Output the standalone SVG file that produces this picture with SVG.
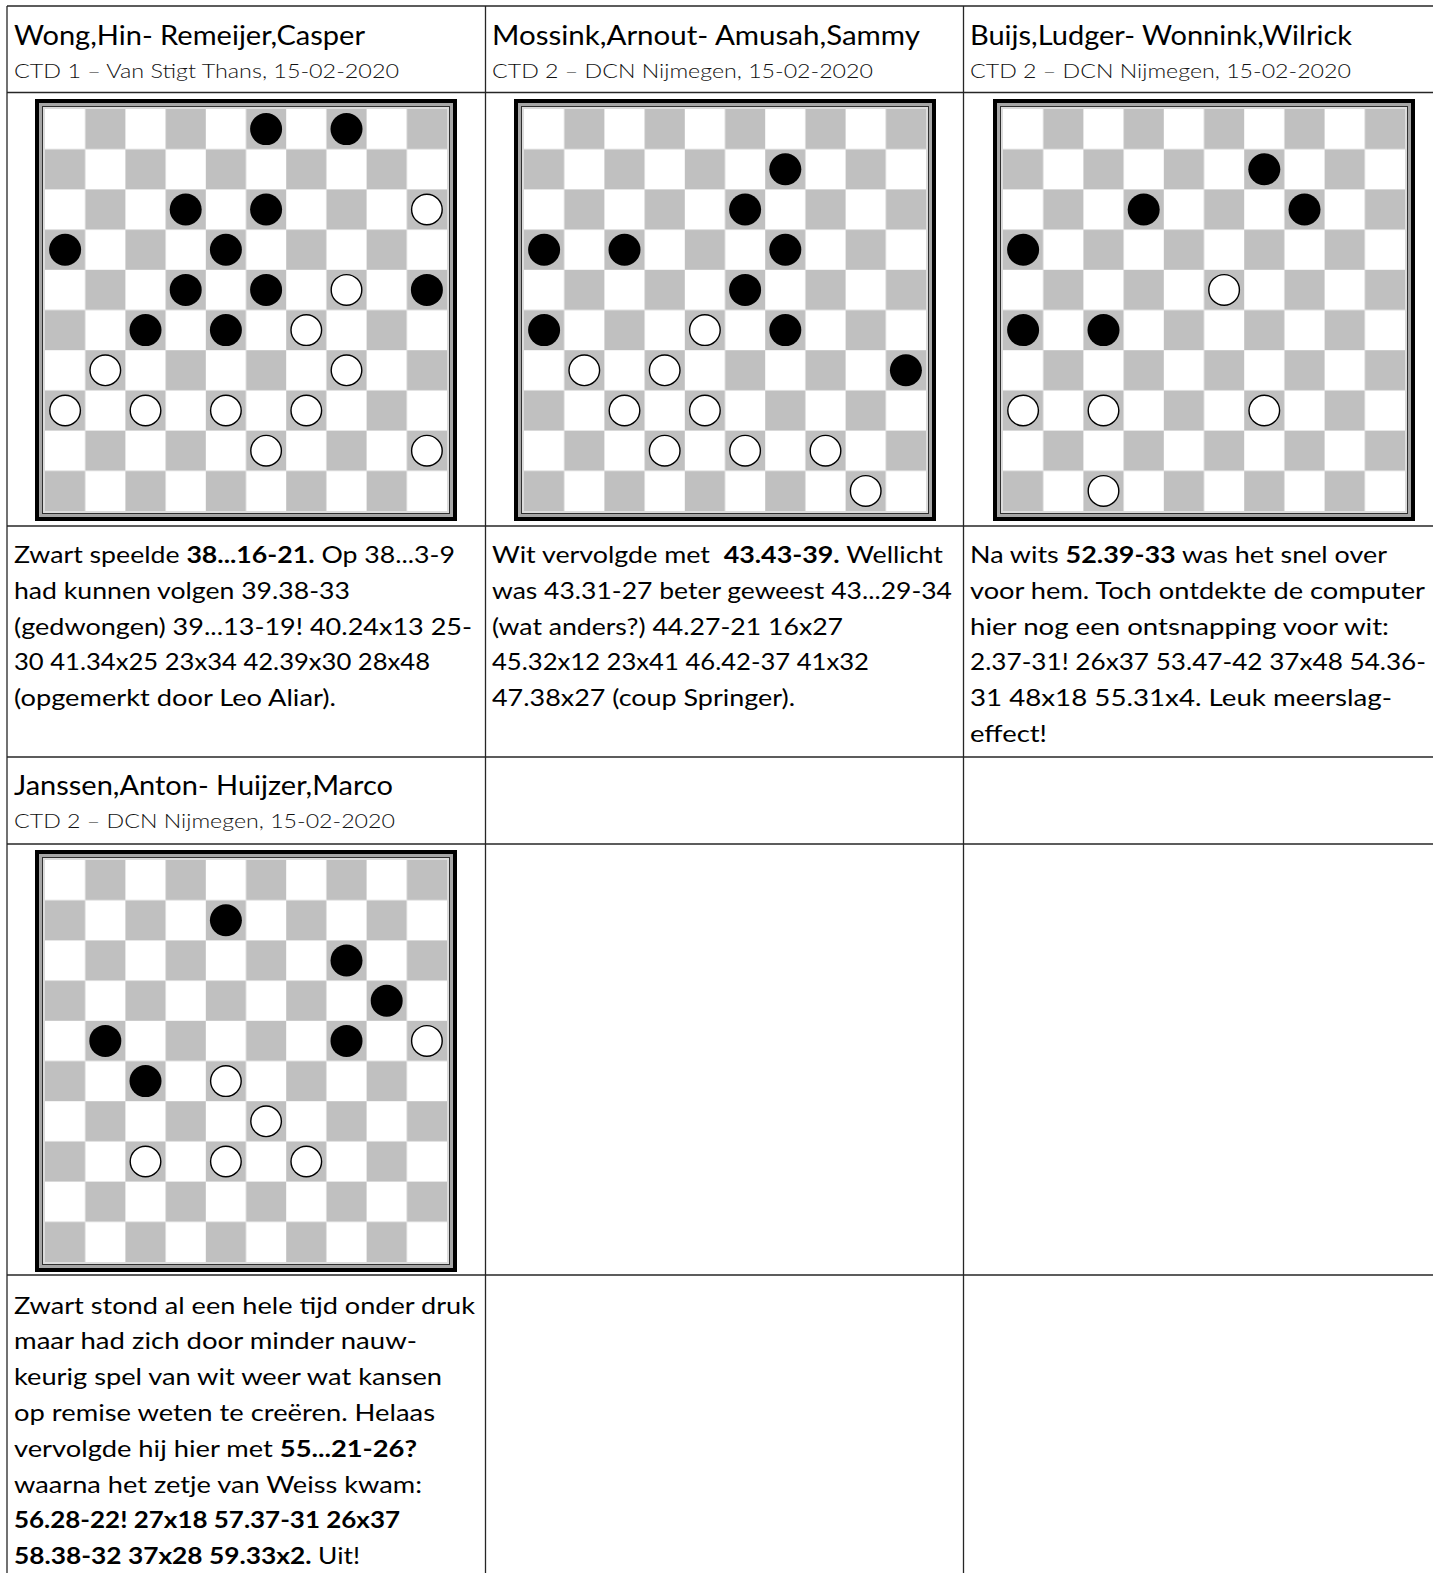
<svg xmlns="http://www.w3.org/2000/svg" xmlns:xlink="http://www.w3.org/1999/xlink" width="1433" height="1573" viewBox="0 0 1433 1573">
<style>
.t{font-family:Lato,"Liberation Sans",sans-serif;fill:#000}
.h{font-size:27px}
.s{font-size:20.5px;font-weight:300;fill:#111}
.b{font-size:23.5px}
.bd{font-weight:700}
.ln{stroke:#262626;stroke-width:1.3;fill:none}
</style>
<defs>
<pattern id="chk" x="10" y="10" width="80.4" height="80.4" patternUnits="userSpaceOnUse">
<rect width="80.4" height="80.4" fill="#fff"/>
<rect x="40.2" width="40.2" height="40.2" fill="#c0c0c0"/>
<rect y="40.2" width="40.2" height="40.2" fill="#c0c0c0"/>
</pattern>
<g id="board">
<rect width="422" height="422" fill="#000"/>
<rect x="4" y="4" width="414" height="414" fill="#a6a6a6"/>
<rect x="7.5" y="7.5" width="407" height="407" fill="#dcdcdc" stroke="#303030" stroke-width="1"/>
<rect x="10" y="10" width="402" height="402" fill="url(#chk)"/>
</g>
<circle id="bp" r="16" fill="#000"/>
<circle id="wp" r="15.3" fill="#fff" stroke="#000" stroke-width="1.4"/>
</defs>
<rect width="1433" height="1573" fill="#fff"/>

<g id="connectors">
<line class="ln" x1="7" y1="6" x2="1433" y2="6"/>
<line class="ln" x1="7" y1="92.5" x2="1433" y2="92.5"/>
<line class="ln" x1="7" y1="526" x2="1433" y2="526"/>
<line class="ln" x1="7" y1="757" x2="1433" y2="757"/>
<line class="ln" x1="7" y1="844" x2="1433" y2="844"/>
<line class="ln" x1="7" y1="1275" x2="1433" y2="1275"/>
<line class="ln" x1="7" y1="6" x2="7" y2="1573"/>
<line class="ln" x1="485.5" y1="6" x2="485.5" y2="1573"/>
<line class="ln" x1="963.5" y1="6" x2="963.5" y2="1573"/>
</g>

<g id="game1">
<text class="t h" x="14" y="45" textLength="351" lengthAdjust="spacingAndGlyphs">Wong,Hin- Remeijer,Casper</text>
<text class="t s" x="14" y="78" textLength="385" lengthAdjust="spacingAndGlyphs">CTD 1 – Van Stigt Thans, 15-02-2020</text>
<g transform="translate(35,99)">
<use xlink:href="#board"/>
<use xlink:href="#bp" x="231.1" y="30.1"/><use xlink:href="#bp" x="311.5" y="30.1"/>
<use xlink:href="#bp" x="150.7" y="110.5"/><use xlink:href="#bp" x="231.1" y="110.5"/><use xlink:href="#wp" x="391.9" y="110.5"/>
<use xlink:href="#bp" x="30.1" y="150.7"/><use xlink:href="#bp" x="190.9" y="150.7"/>
<use xlink:href="#bp" x="150.7" y="190.9"/><use xlink:href="#bp" x="231.1" y="190.9"/><use xlink:href="#wp" x="311.5" y="190.9"/><use xlink:href="#bp" x="391.9" y="190.9"/>
<use xlink:href="#bp" x="110.5" y="231.1"/><use xlink:href="#bp" x="190.9" y="231.1"/><use xlink:href="#wp" x="271.3" y="231.1"/>
<use xlink:href="#wp" x="70.3" y="271.3"/><use xlink:href="#wp" x="311.5" y="271.3"/>
<use xlink:href="#wp" x="30.1" y="311.5"/><use xlink:href="#wp" x="110.5" y="311.5"/><use xlink:href="#wp" x="190.9" y="311.5"/><use xlink:href="#wp" x="271.3" y="311.5"/>
<use xlink:href="#wp" x="231.1" y="351.7"/><use xlink:href="#wp" x="391.9" y="351.7"/>
</g>
<text class="t b" x="14" y="563" textLength="441" lengthAdjust="spacingAndGlyphs">Zwart speelde <tspan class="bd">38...16-21.</tspan> Op 38...3-9</text>
<text class="t b" x="14" y="598.8" textLength="336" lengthAdjust="spacingAndGlyphs">had kunnen volgen 39.38-33</text>
<text class="t b" x="14" y="634.6" textLength="458" lengthAdjust="spacingAndGlyphs">(gedwongen) 39...13-19! 40.24x13 25-</text>
<text class="t b" x="14" y="670.4" textLength="416" lengthAdjust="spacingAndGlyphs">30 41.34x25 23x34 42.39x30 28x48</text>
<text class="t b" x="14" y="706.2" textLength="322" lengthAdjust="spacingAndGlyphs">(opgemerkt door Leo Aliar).</text>
</g>

<g id="game2">
<text class="t h" x="492" y="45" textLength="428" lengthAdjust="spacingAndGlyphs">Mossink,Arnout- Amusah,Sammy</text>
<text class="t s" x="492" y="78" textLength="381" lengthAdjust="spacingAndGlyphs">CTD 2 – DCN Nijmegen, 15-02-2020</text>
<g transform="translate(514,99)">
<use xlink:href="#board"/>
<use xlink:href="#bp" x="271.3" y="70.3"/>
<use xlink:href="#bp" x="231.1" y="110.5"/>
<use xlink:href="#bp" x="30.1" y="150.7"/><use xlink:href="#bp" x="110.5" y="150.7"/><use xlink:href="#bp" x="271.3" y="150.7"/>
<use xlink:href="#bp" x="231.1" y="190.9"/>
<use xlink:href="#bp" x="30.1" y="231.1"/><use xlink:href="#wp" x="190.9" y="231.1"/><use xlink:href="#bp" x="271.3" y="231.1"/>
<use xlink:href="#wp" x="70.3" y="271.3"/><use xlink:href="#wp" x="150.7" y="271.3"/><use xlink:href="#bp" x="391.9" y="271.3"/>
<use xlink:href="#wp" x="110.5" y="311.5"/><use xlink:href="#wp" x="190.9" y="311.5"/>
<use xlink:href="#wp" x="150.7" y="351.7"/><use xlink:href="#wp" x="231.1" y="351.7"/><use xlink:href="#wp" x="311.5" y="351.7"/>
<use xlink:href="#wp" x="351.7" y="391.9"/>
</g>
<text class="t b" x="492" y="563" textLength="451" lengthAdjust="spacingAndGlyphs" xml:space="preserve">Wit vervolgde met  <tspan class="bd">43.43-39.</tspan> Wellicht</text>
<text class="t b" x="492" y="598.8" textLength="460" lengthAdjust="spacingAndGlyphs">was 43.31-27 beter geweest 43...29-34</text>
<text class="t b" x="492" y="634.6" textLength="351" lengthAdjust="spacingAndGlyphs">(wat anders?) 44.27-21 16x27</text>
<text class="t b" x="492" y="670.4" textLength="377" lengthAdjust="spacingAndGlyphs">45.32x12 23x41 46.42-37 41x32</text>
<text class="t b" x="492" y="706.2" textLength="303" lengthAdjust="spacingAndGlyphs">47.38x27 (coup Springer).</text>
</g>

<g id="game3">
<text class="t h" x="970" y="45" textLength="382" lengthAdjust="spacingAndGlyphs">Buijs,Ludger- Wonnink,Wilrick</text>
<text class="t s" x="970" y="78" textLength="381" lengthAdjust="spacingAndGlyphs">CTD 2 – DCN Nijmegen, 15-02-2020</text>
<g transform="translate(993,99)">
<use xlink:href="#board"/>
<use xlink:href="#bp" x="271.3" y="70.3"/>
<use xlink:href="#bp" x="150.7" y="110.5"/><use xlink:href="#bp" x="311.5" y="110.5"/>
<use xlink:href="#bp" x="30.1" y="150.7"/>
<use xlink:href="#wp" x="231.1" y="190.9"/>
<use xlink:href="#bp" x="30.1" y="231.1"/><use xlink:href="#bp" x="110.5" y="231.1"/>
<use xlink:href="#wp" x="30.1" y="311.5"/><use xlink:href="#wp" x="110.5" y="311.5"/><use xlink:href="#wp" x="271.3" y="311.5"/>
<use xlink:href="#wp" x="110.5" y="391.9"/>
</g>
<text class="t b" x="970" y="563" textLength="417" lengthAdjust="spacingAndGlyphs">Na wits <tspan class="bd">52.39-33</tspan> was het snel over</text>
<text class="t b" x="970" y="598.8" textLength="455" lengthAdjust="spacingAndGlyphs">voor hem. Toch ontdekte de computer</text>
<text class="t b" x="970" y="634.6" textLength="419" lengthAdjust="spacingAndGlyphs">hier nog een ontsnapping voor wit:</text>
<text class="t b" x="970" y="670.4" textLength="456" lengthAdjust="spacingAndGlyphs">2.37-31! 26x37 53.47-42 37x48 54.36-</text>
<text class="t b" x="970" y="706.2" textLength="422" lengthAdjust="spacingAndGlyphs">31 48x18 55.31x4. Leuk meerslag-</text>
<text class="t b" x="970" y="742" textLength="77" lengthAdjust="spacingAndGlyphs">effect!</text>
</g>

<g id="game4">
<text class="t h" x="14" y="795" textLength="379" lengthAdjust="spacingAndGlyphs">Janssen,Anton- Huijzer,Marco</text>
<text class="t s" x="14" y="828" textLength="381" lengthAdjust="spacingAndGlyphs">CTD 2 – DCN Nijmegen, 15-02-2020</text>
<g transform="translate(35,850)">
<use xlink:href="#board"/>
<use xlink:href="#bp" x="190.9" y="70.3"/>
<use xlink:href="#bp" x="311.5" y="110.5"/>
<use xlink:href="#bp" x="351.7" y="150.7"/>
<use xlink:href="#bp" x="70.3" y="190.9"/><use xlink:href="#bp" x="311.5" y="190.9"/><use xlink:href="#wp" x="391.9" y="190.9"/>
<use xlink:href="#bp" x="110.5" y="231.1"/><use xlink:href="#wp" x="190.9" y="231.1"/>
<use xlink:href="#wp" x="231.1" y="271.3"/>
<use xlink:href="#wp" x="110.5" y="311.5"/><use xlink:href="#wp" x="190.9" y="311.5"/><use xlink:href="#wp" x="271.3" y="311.5"/>
</g>
<text class="t b" x="14" y="1313.5" textLength="461" lengthAdjust="spacingAndGlyphs">Zwart stond al een hele tijd onder druk</text>
<text class="t b" x="14" y="1349.3" textLength="403" lengthAdjust="spacingAndGlyphs">maar had zich door minder nauw-</text>
<text class="t b" x="14" y="1385.1" textLength="428" lengthAdjust="spacingAndGlyphs">keurig spel van wit weer wat kansen</text>
<text class="t b" x="14" y="1420.9" textLength="421" lengthAdjust="spacingAndGlyphs">op remise weten te creëren. Helaas</text>
<text class="t b" x="14" y="1456.7" textLength="403" lengthAdjust="spacingAndGlyphs">vervolgde hij hier met <tspan class="bd">55...21-26?</tspan></text>
<text class="t b" x="14" y="1492.5" textLength="408" lengthAdjust="spacingAndGlyphs">waarna het zetje van Weiss kwam:</text>
<text class="t b bd" x="14" y="1528.3" textLength="386" lengthAdjust="spacingAndGlyphs">56.28-22! 27x18 57.37-31 26x37</text>
<text class="t b" x="14" y="1564.1" textLength="346" lengthAdjust="spacingAndGlyphs"><tspan class="bd">58.38-32 37x28 59.33x2.</tspan> Uit!</text>
</g>
</svg>
